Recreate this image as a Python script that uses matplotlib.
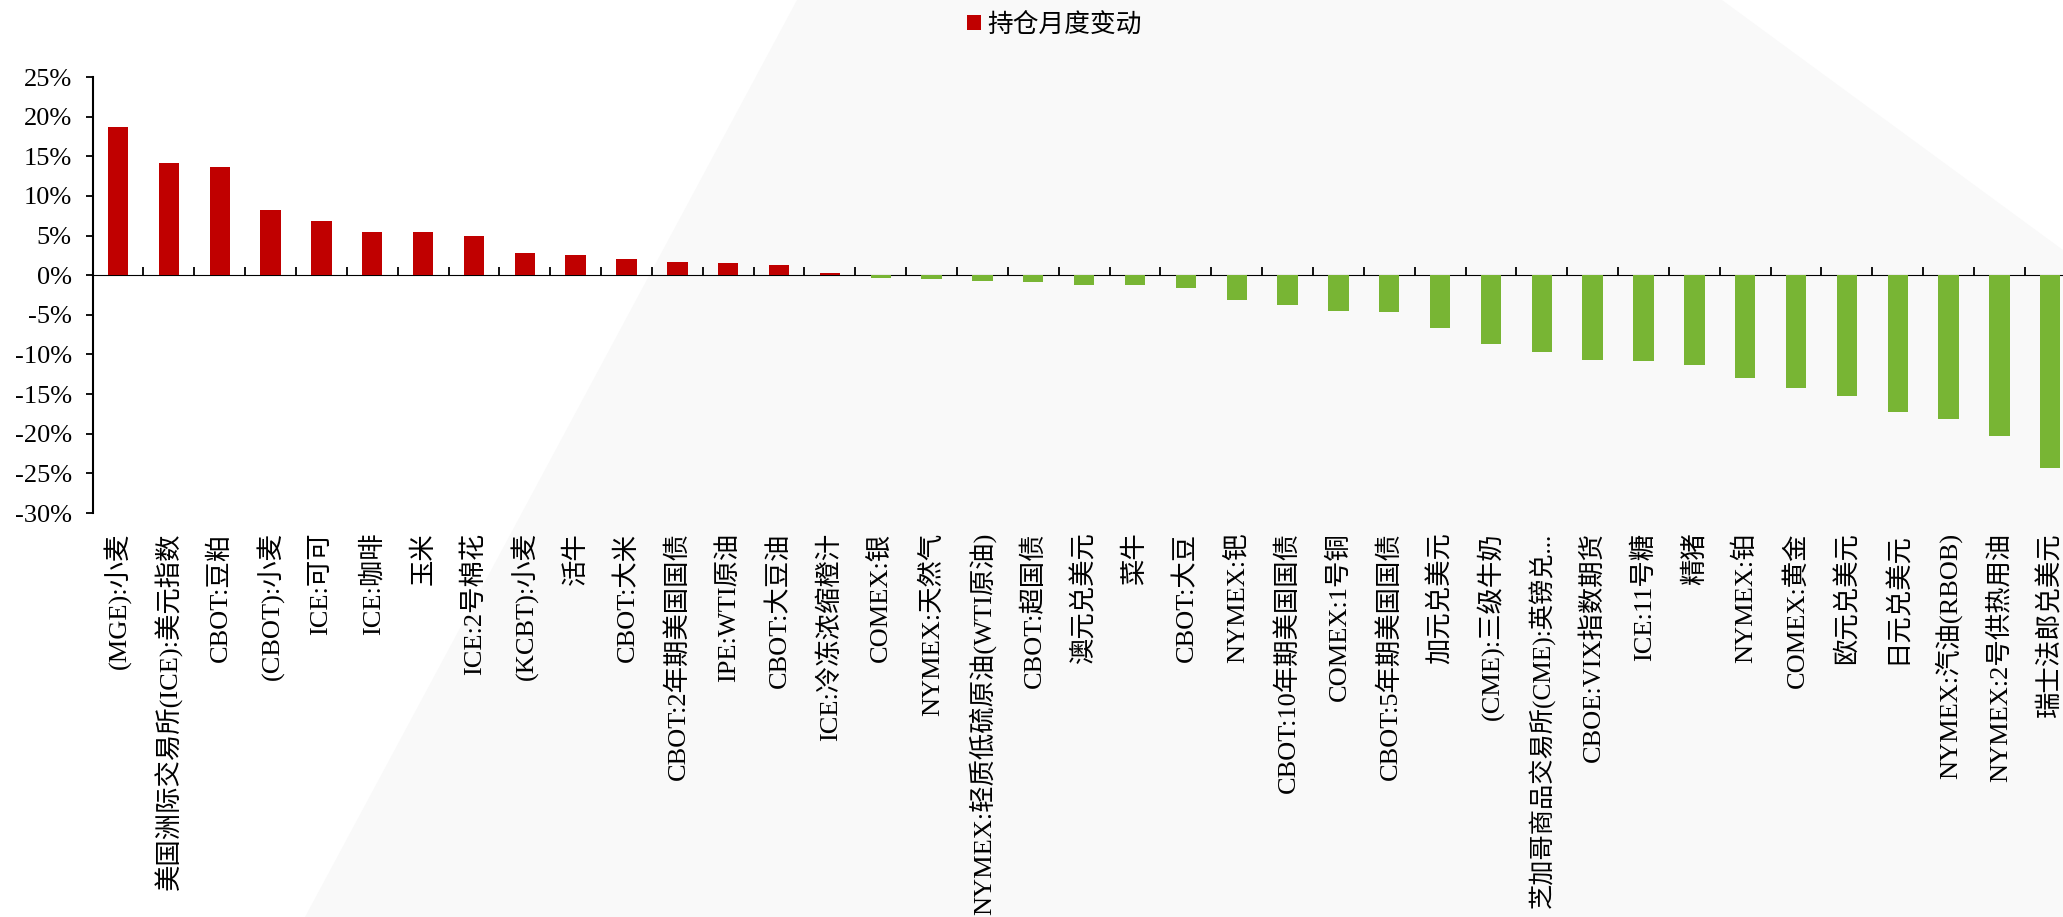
import numpy as np
import matplotlib as mpl
mpl.use('Agg')
import matplotlib.pyplot as plt
from matplotlib.patches import Polygon
from matplotlib.ticker import FuncFormatter

# Data
categories = ['(MGE):小麦', '美国洲际交易所(ICE):美元指数', 'CBOT:豆粕', '(CBOT):小麦', 'ICE:可可',
              'ICE:咖啡', '玉米', 'ICE:2号棉花', '(KCBT):小麦', '活牛', 'CBOT:大米',
              'CBOT:2年期美国国债', 'IPE:WTI原油', 'CBOT:大豆油', 'ICE:冷冻浓缩橙汁', 'COMEX:银',
              'NYMEX:天然气', 'NYMEX:轻质低硫原油(WTI原油)', 'CBOT:超国债', '澳元兑美元', '菜牛',
              'CBOT:大豆', 'NYMEX:钯', 'CBOT:10年期美国国债', 'COMEX:1号铜', 'CBOT:5年期美国国债',
              '加元兑美元', '(CME):三级牛奶', '芝加哥商品交易所(CME):英镑兑...', 'CBOE:VIX指数期货',
              'ICE:11号糖', '精猪', 'NYMEX:铂', 'COMEX:黄金', '欧元兑美元', '日元兑美元',
              'NYMEX:汽油(RBOB)', 'NYMEX:2号供热用油', '瑞士法郎兑美元']
change = [18.7, 14.2, 13.7, 8.2, 6.8, 5.4, 5.4, 4.9, 2.8, 2.6, 2.0, 1.7, 1.5, 1.3, 0.3,
          -0.4, -0.5, -0.75, -0.9, -1.25, -1.25, -1.6, -3.15, -3.8, -4.5, -4.7, -6.7, -8.7,
          -9.7, -10.7, -10.85, -11.35, -13.0, -14.25, -15.25, -17.3, -18.15, -20.3, -24.3]
series_name = '持仓月度变动'
y_ticks = np.arange(-30, 26, 5)

RED = '#C00000'
GREEN = '#78B534'

plt.rcParams['font.family'] = ['Liberation Serif', 'Noto Sans CJK SC']
plt.rcParams['font.size'] = 19

fig = plt.figure(figsize=(20.63, 9.17), dpi=100)

# light grey background shape (behind the axes)
W, H = 2063.0, 917.0
bg = Polygon([(797 / W, 1), (1722 / W, 1), (1, 1 - 250 / H), (1, 0), (305 / W, 0)],
             closed=True, transform=fig.transFigure, facecolor='#F9F9F9', edgecolor='none', zorder=-5)
fig.patches.append(bg)

ax = fig.add_axes([92.6 / W, 404 / H, (2075.7 - 92.6) / W, 436 / H])
ax.set_facecolor('none')
ax.set_zorder(2)

x = np.arange(len(categories))
colors = [RED if v >= 0 else GREEN for v in change]
ax.bar(x, change, width=0.4, color=colors, label=series_name, zorder=2)

ax.set_xlim(-0.5, len(categories) - 0.5)
ax.set_ylim(y_ticks[0], y_ticks[-1])
ax.set_yticks(y_ticks)
ax.yaxis.set_major_formatter(FuncFormatter(lambda v, p: '%d%%' % v))
ax.tick_params(axis='y', direction='out', length=5, width=1.3, pad=10)

ax.set_xticks(x)
ax.set_xticklabels(categories, rotation=90, va='top', ha='center')
ax.tick_params(axis='x', length=0, pad=14)
# the long truncated label has to fit above the bottom edge
for lbl in ax.get_xticklabels():
    if lbl.get_text().endswith('...'):
        lbl.set_fontsize(18.2)

for s in ['top', 'right', 'bottom']:
    ax.spines[s].set_visible(False)
ax.spines['left'].set_linewidth(1.5)

# zero line with category boundary ticks
zero_frac = (0 - y_ticks[0]) / (y_ticks[-1] - y_ticks[0])
sec = ax.secondary_xaxis(zero_frac)
sec.set_xticks(x[:-1] + 0.5)
sec.set_xticklabels([])
sec.tick_params(axis='x', direction='out', length=6, width=1.3)
sec.spines['bottom'].set_linewidth(2.2)

leg = fig.legend(loc='center', bbox_to_anchor=(0.511, 0.973), frameon=False,
                 handlelength=0.55, handleheight=0.55, handletextpad=0.25,
                 prop={'family': 'Noto Sans CJK SC', 'size': 18.5})

fig.savefig('out.png', dpi=100)
